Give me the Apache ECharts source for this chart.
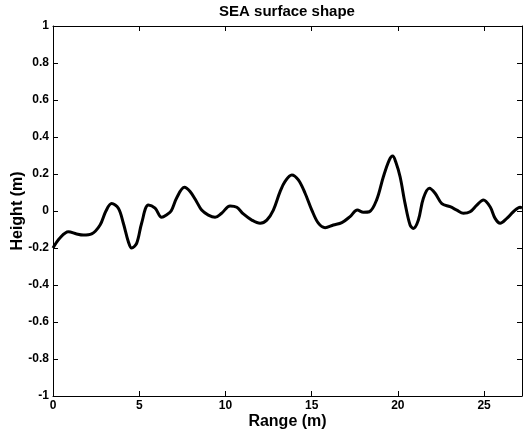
<!DOCTYPE html>
<html>
<head>
<meta charset="utf-8">
<script src="https://cdn.jsdelivr.net/npm/echarts@6/dist/echarts.min.js"></script>
<style>html,body{margin:0;padding:0;background:#fff}#c{width:523px;height:432px}</style>
</head>
<body>
<div id="c"></div>
<script>
const titleText = "SEA surface shape";
const xName = "Range (m)";
const yName = "Height (m)";
const rangeM = [0,0.4,0.89,1.37,1.76,2.24,2.73,3.07,3.4,3.79,4.08,4.37,4.56,4.85,5.14,5.53,5.92,6.3,6.6,6.85,7.17,7.62,7.95,8.33,8.62,9.01,9.4,9.78,10.27,10.66,11.04,11.53,12.01,12.4,12.78,13.17,13.46,13.85,14.23,14.62,15.01,15.39,15.78,16.26,16.75,17.23,17.65,18.0,18.35,18.77,19.16,19.5,19.7,19.88,20.13,20.42,20.71,20.9,21.19,21.48,21.83,22.16,22.55,23.03,23.42,23.8,24.19,24.58,24.96,25.35,25.64,25.93,26.32,26.7,27.09,27.2];
const heightM = [-0.2,-0.146,-0.112,-0.124,-0.13,-0.124,-0.076,0,0.04,0.015,-0.066,-0.166,-0.2,-0.175,-0.066,0.032,0.015,-0.034,-0.02,0,0.07,0.128,0.105,0.05,0.005,-0.022,-0.034,-0.012,0.027,0.02,-0.016,-0.049,-0.066,-0.049,0.005,0.105,0.16,0.195,0.168,0.096,0.005,-0.066,-0.09,-0.076,-0.063,-0.03,0.005,-0.007,-0.004,0.06,0.185,0.275,0.297,0.265,0.185,0.04,-0.076,-0.094,-0.049,0.069,0.123,0.096,0.04,0.023,0.005,-0.012,-0.004,0.032,0.06,0.023,-0.04,-0.066,-0.04,-0.004,0.02,0.015];
const xTicks = [0,5,10,15,20,25];
const yTicks = [-1,-0.8,-0.6,-0.4,-0.2,0,0.2,0.4,0.6,0.8,1];

const data = rangeM.map((x,i)=>[x,heightM[i]]);
const font = 'Liberation Sans, Arial, sans-serif';
const chart = echarts.init(document.getElementById('c'), null, {renderer:'canvas'});
const lineStyle = {color:'#000', width:1};
chart.setOption({
  animation:false,
  backgroundColor:'#fff',
  title:{text:titleText, left:287, textAlign:'center', top:4, padding:0,
    textStyle:{fontFamily:font, fontWeight:'bold', fontSize:15, color:'#000'}},
  grid:{left:53, right:1, top:26, bottom:36, containLabel:false, outerBoundsMode:'none'},
  xAxis:[{type:'value', min:0, max:27.2, interval:5,
    name:xName, nameLocation:'middle', nameGap:18, nameMoveOverlap:false,
    nameTextStyle:{fontFamily:font, fontWeight:'bold', fontSize:16, color:'#000'},
    axisLine:{show:true, onZero:false, lineStyle},
    axisTick:{show:true, inside:true, length:5, lineStyle},
    splitLine:{show:false},
    axisLabel:{fontFamily:font, fontWeight:'bold', fontSize:12, color:'#000', margin:4,
      showMaxLabel:false, formatter:v=> xTicks.includes(v)? String(v):''}},
   {type:'value', position:'top', min:0, max:27.2, interval:5,
    axisLine:{show:true, onZero:false, lineStyle},
    axisTick:{show:true, inside:true, length:5, lineStyle},
    splitLine:{show:false}, axisLabel:{show:false}}],
  yAxis:[{type:'value', min:-1, max:1, interval:0.2,
    name:yName, nameLocation:'middle', nameGap:27, nameRotate:90, nameMoveOverlap:false,
    nameTextStyle:{fontFamily:font, fontWeight:'bold', fontSize:16, color:'#000'},
    axisLine:{show:true, onZero:false, lineStyle},
    axisTick:{show:true, inside:true, length:5, lineStyle},
    splitLine:{show:false},
    axisLabel:{fontFamily:font, fontWeight:'bold', fontSize:12, color:'#000', margin:4,
      formatter:v=>{const r=Math.round(v*10)/10; return yTicks.includes(r)? String(r):'';}}},
   {type:'value', position:'right', min:-1, max:1, interval:0.2,
    axisLine:{show:true, onZero:false, lineStyle},
    axisTick:{show:true, inside:true, length:5, lineStyle},
    splitLine:{show:false}, axisLabel:{show:false}}],
  series:[{type:'line', data:data, xAxisIndex:0, yAxisIndex:0, smooth:0.35,
    showSymbol:false, symbol:'none', lineStyle:{color:'#000', width:3}}]
});
</script>
</body>
</html>
